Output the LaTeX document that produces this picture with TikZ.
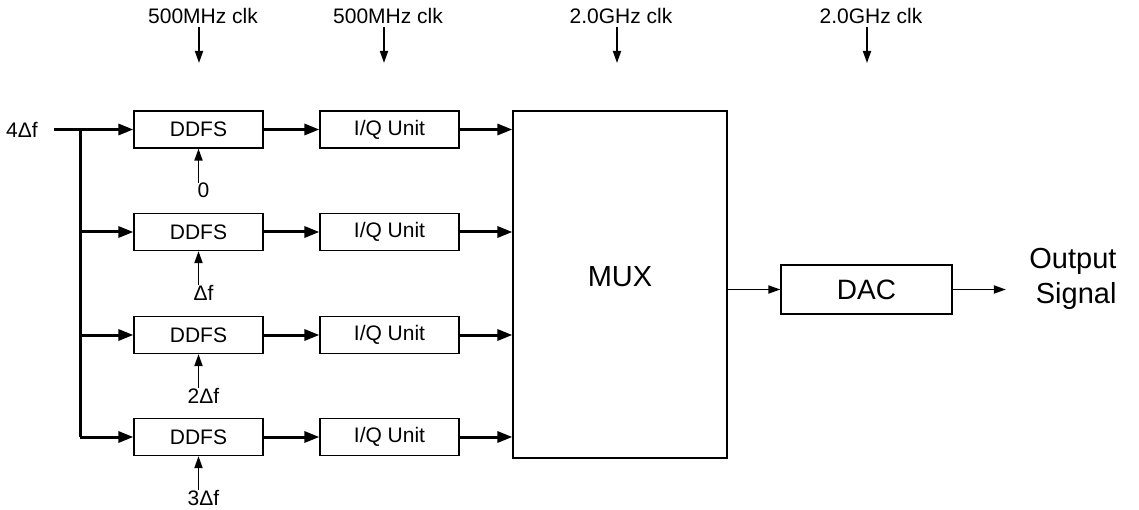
\documentclass[tikz,border=0pt]{standalone}
\usepackage{fontspec}
\setmainfont{Liberation Sans}
\usetikzlibrary{arrows.meta,calc}

\begin{document}
\begin{tikzpicture}[
    x=1pt,
    y=-1pt,
    >={Triangle[length=15pt,width=11pt]},
    every node/.style={font=\fontsize{21}{24}\selectfont},
    blk/.style={draw, line width=1.2pt, minimum height=37pt, inner sep=0pt},
    big/.style={font=\fontsize{29}{35}\selectfont},
    bus/.style={line width=3pt},
    thinarr/.style={line width=1.8pt, -{Triangle[length=12pt,width=8pt]}}
  ]

  % --- 1. 描画範囲 ---
  \useasboundingbox (0,0) rectangle (1139,510);

  % --- 2. ブロック ---
  \foreach \i/\y in {1/129.5, 2/232, 3/335, 4/437} {
    \node[blk, minimum width=129pt] (ddfs\i) at (198.5,\y) {DDFS};
    \node[blk, minimum width=139pt] (iq\i) at (389.5,\y) {I/Q Unit};
  }
  \node[blk, minimum width=214pt, minimum height=347pt] (mux) at (620,284.5) {};
  \node[big] (muxlabel) at (620,277) {MUX};
  \node[blk, minimum width=171pt, minimum height=49pt, font=\fontsize{28}{32}\selectfont] (dac) at (866.5,289.5) {DAC};
  \node[big, align=right, anchor=east] (out) at (1120,279) {Output\\Signal};

  % --- 3. 入力 4Δf と分配バス ---
  \node (in) at (22,129.5) {4Δf};
  \coordinate (split) at (80,129.5);
  \draw[bus, ->, shorten <=13pt] (in) -- (ddfs1.west);
  \draw[bus] (split) -- (split |- ddfs4);
  \foreach \i in {2,3,4}
    \draw[bus, ->] (split |- ddfs\i) -- (ddfs\i.west);

  % --- 4. DDFS → I/Q Unit → MUX ---
  \foreach \i in {1,2,3,4} {
    \draw[bus, ->] (ddfs\i) -- (iq\i);
    \draw[bus, ->] (iq\i) -- (iq\i -| mux.west);
  }

  % --- 5. 周波数オフセット入力 ---
  \foreach \i/\lab in {1/0, 2/Δf, 3/2Δf, 4/3Δf} {
    \coordinate (fo\i) at ($(ddfs\i.south)+(0,34)$);
    \draw[thinarr] (fo\i) -- (ddfs\i.south);
    \node[below, inner sep=0pt, xshift=5pt] (flab\i) at (fo\i) {\lab};
  }

  % --- 6. クロック ---
  \foreach \j/\x/\lab in {1/199/500MHz clk, 2/384/500MHz clk, 3/617/2.0GHz clk, 4/867/2.0GHz clk} {
    \node (clk\j) at (\x+4,16) {\lab};
    \coordinate (ck\j) at (\x,63);
    \draw[thinarr] (clk\j.south -| ck\j) -- (ck\j);
  }

  % --- 7. MUX → DAC → 出力 ---
  \draw[thinarr] (mux.east |- dac) -- (dac.west);
  \draw[thinarr, shorten >=20pt] (dac.east) -- (out.west |- dac);

\end{tikzpicture}
\end{document}
